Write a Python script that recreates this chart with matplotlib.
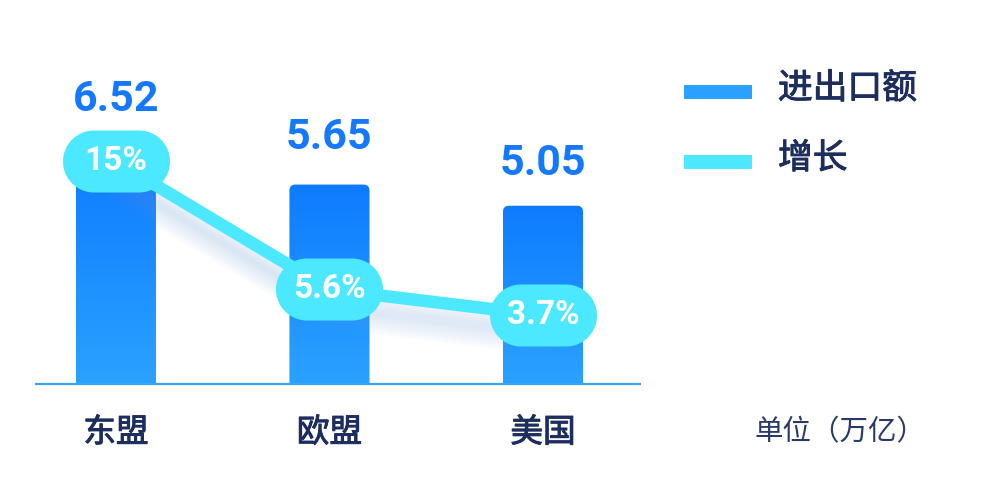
import numpy as np
import matplotlib
matplotlib.use("Agg")
import matplotlib.pyplot as plt
from matplotlib.patches import FancyBboxPatch, Rectangle
from matplotlib.path import Path
from matplotlib.colors import LinearSegmentedColormap
import matplotlib.transforms as mtransforms
import matplotlib.patheffects as pe

plt.rcParams['font.family'] = ['Noto Sans CJK SC', 'DejaVu Sans']

# ---- data ----
categories = ['东盟', '欧盟', '美国']
trade_values = [6.52, 5.65, 5.05]       # 进出口额 (万亿)
growth_values = [15, 5.6, 3.7]           # 增长 (%)
value_labels = ['6.52', '5.65', '5.05']
growth_labels = ['15%', '5.6%', '3.7%']
legend_names = ['进出口额', '增长']
unit_label = '单位（万亿）'

# ---- style ----
W, H = 985, 490
DPI = 100
bar_top_color = '#0E7BFF'
bar_bot_color = '#2AA2FF'
line_color = '#4CE8FF'
label_blue = '#1579FF'
navy = '#1C2D5E'
base_color = '#3AA4F8'
num_font = ['Roboto', 'DejaVu Sans']
semi_bold = [pe.withStroke(linewidth=0.7, foreground=navy)]

fig = plt.figure(figsize=(W / DPI, H / DPI), dpi=DPI)
fig.patch.set_facecolor('white')

ax_left, ax_right, ax_bottom, ax_top = 35, 641, 387, 40
ax = fig.add_axes([ax_left / W, 1 - ax_bottom / H,
                   (ax_right - ax_left) / W, (ax_bottom - ax_top) / H])
ax2 = ax.twinx()
for a in (ax, ax2):
    a.set_axis_off()

x = np.arange(len(categories))
ax.set_xlim(-0.379, 2.459)
ax.set_ylim(-0.085, 9.745)
ax2.set_ylim(-1.572, 23.92)
ax2.set_xlim(ax.get_xlim())

# bars (geometry from the library), then drawn as gradient rounded shapes
bar_w = 0.375
bars = ax.bar(x, trade_values, width=bar_w, color='none', zorder=1)
cmap = LinearSegmentedColormap.from_list('barg', [bar_bot_color, bar_top_color])
grad = np.linspace(0, 1, 256).reshape(-1, 1)
px_x = (ax_right - ax_left) / (2.459 + 0.379)
px_y = (ax_bottom - ax_top) / (9.745 + 0.085)
r_px = 6
for rect in bars:
    x0, w, h = rect.get_x(), rect.get_width(), rect.get_height()
    rs = r_px / px_x
    patch = FancyBboxPatch((x0, -1.0), w, h + 1.0,
                           boxstyle=f"round,pad=0,rounding_size={rs}",
                           mutation_aspect=(r_px / px_y) / rs,
                           facecolor='none', edgecolor='none', zorder=2)
    ax.add_patch(patch)
    im = ax.imshow(grad, extent=(x0, x0 + w, 0, h), origin='lower',
                   cmap=cmap, aspect='auto', zorder=2)
    im.set_clip_path(patch)
ax.set_xlim(-0.379, 2.459)
ax.set_ylim(-0.085, 9.745)

# baseline
ax.axhline(0, color=base_color, lw=1.6, zorder=3)

# value labels above bars
for xi, v, lab in zip(x, trade_values, value_labels):
    ax.text(xi, v * 1.235, lab, ha='center', va='center',
            fontsize=31, fontweight='bold', color=label_blue,
            family=num_font, zorder=6)

# category labels
for xi, c in zip(x, categories):
    ax.text(xi, 0, c, transform=mtransforms.offset_copy(ax.transData, fig=fig, y=-49 * 72 / DPI, units='points'),
            ha='center', va='center', fontsize=23.5, color=navy,
            path_effects=semi_bold)

# shadow under line
for i, off in enumerate(np.linspace(6, 30, 13)):
    tr = mtransforms.offset_copy(ax2.transData, fig=fig, y=-off * 72 / DPI, units='points')
    ax2.plot(x, growth_values, color='#7AA6E8', lw=14, alpha=0.025,
             solid_capstyle='round', transform=tr, zorder=1.5)

# growth line
ax2.plot(x, growth_values, color=line_color, lw=9, solid_capstyle='round', zorder=4)

# pill markers
r = 31.0
half = 53.5
theta = np.linspace(-np.pi / 2, np.pi / 2, 40)
right = np.column_stack([half - r + r * np.cos(theta), r * np.sin(theta)])
left = np.column_stack([-(half - r) - r * np.cos(theta), -r * np.sin(theta)])
verts = np.vstack([right, left, right[:1]])
codes = [Path.MOVETO] + [Path.LINETO] * (len(verts) - 2) + [Path.CLOSEPOLY]
pill = Path(verts, codes)
ax2.plot(x, growth_values, linestyle='none', marker=pill,
         markersize=2 * half * 72 / DPI, markerfacecolor=line_color,
         markeredgecolor='none', zorder=5)
for xi, g, lab in zip(x, growth_values, growth_labels):
    ax2.text(xi, g, lab, ha='center', va='center', fontsize=24,
             fontweight='bold', color='white',
             family=num_font, zorder=6)

# legend
leg_colors = [bar_bot_color, line_color]
leg_y = [92, 162]
for name, col, yy in zip(legend_names, leg_colors, leg_y):
    fig.patches.append(Rectangle((684 / W, 1 - (yy + 7) / H), 68 / W, 14 / H,
                                 transform=fig.transFigure, facecolor=col,
                                 edgecolor='none'))
    fig.text(778 / W, 1 - (yy - 3) / H, name, ha='left', va='center',
             fontsize=25, color=navy, path_effects=semi_bold)

fig.text(754 / W, 1 - 432 / H, unit_label, ha='left', va='center',
         fontsize=20.5, color='#2A3A68')

fig.savefig('out.png', dpi=DPI, facecolor='white')
